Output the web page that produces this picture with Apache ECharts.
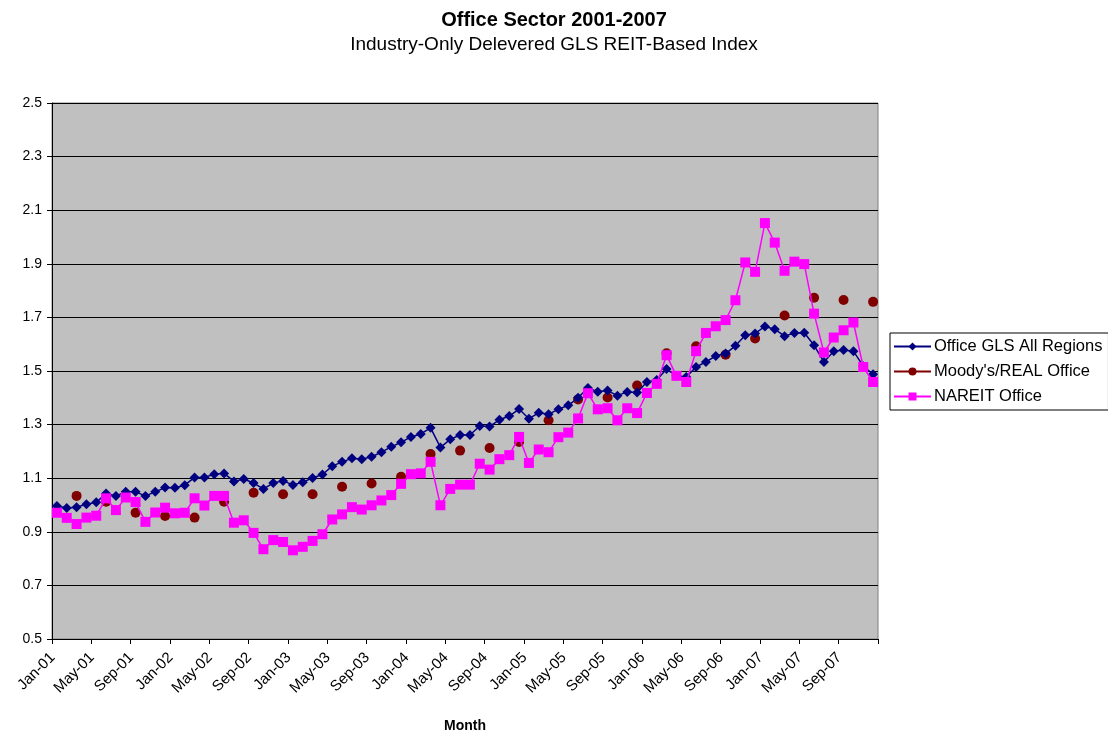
<html>
<head>
    <meta charset="utf-8">
    <title>Office Sector 2001-2007</title>
    <style>
    html, body, #chart {
      padding: 0;
      margin: 0;
      height: 100%;
      width: 100%;
      background: #fff;
    }
    </style>
    <script src="https://cdn.jsdelivr.net/npm/echarts@6/dist/echarts.min.js"></script>
</head>
<body>
<div id="chart" style="width:1108px;height:736px;"></div>
<script>
// month labels Jan-01 .. Dec-07
var monthNames = ['Jan','Feb','Mar','Apr','May','Jun','Jul','Aug','Sep','Oct','Nov','Dec'];
var years = ['01','02','03','04','05','06','07'];
var months = [];
years.forEach(function(y){ monthNames.forEach(function(m){ months.push(m + '-' + y); }); });

var yTicks = [0.5, 0.7, 0.9, 1.1, 1.3, 1.5, 1.7, 1.9, 2.1, 2.3, 2.5];

// Office GLS All Regions (monthly)
var glsAll = [
    0.996, 0.989, 0.992, 1.003, 1.010, 1.043, 1.034, 1.049, 1.049, 1.034, 1.049, 1.065,
    1.064, 1.074, 1.103, 1.103, 1.115, 1.118, 1.088, 1.097, 1.082, 1.060, 1.082, 1.090,
    1.075, 1.085, 1.101, 1.114, 1.145, 1.161, 1.174, 1.171, 1.180, 1.197, 1.217, 1.234,
    1.254, 1.265, 1.288, 1.215, 1.245, 1.261, 1.261, 1.295, 1.293, 1.318, 1.332, 1.358,
    1.322, 1.344, 1.339, 1.357, 1.372, 1.400, 1.437, 1.423, 1.427, 1.408, 1.422, 1.420,
    1.459, 1.466, 1.507, 1.482, 1.478, 1.515, 1.534, 1.556, 1.565, 1.594, 1.633, 1.640,
    1.666, 1.656, 1.630, 1.642, 1.643, 1.596, 1.534, 1.574, 1.578, 1.574, 1.518, 1.488
];

// Moody's/REAL Office (quarterly: Mar, Jun, Sep, Dec)
var moodys = [
    1.034, 1.012, 0.971, 0.959,
    0.953, 1.012, 1.046, 1.040,
    1.040, 1.068, 1.080, 1.105,
    1.190, 1.203, 1.213, 1.235,
    1.316, 1.394, 1.401, 1.446,
    1.566, 1.592, 1.561, 1.621,
    1.707, 1.773, 1.765, 1.758
];

// NAREIT Office (monthly)
var nareit = [
    0.971, 0.952, 0.929, 0.953, 0.960, 1.025, 0.981, 1.028, 1.011, 0.937, 0.972, 0.990,
    0.969, 0.971, 1.025, 0.998, 1.034, 1.034, 0.934, 0.943, 0.896, 0.835, 0.869, 0.862,
    0.831, 0.844, 0.866, 0.891, 0.946, 0.965, 0.992, 0.983, 0.999, 1.017, 1.037, 1.079,
    1.115, 1.118, 1.161, 0.999, 1.060, 1.076, 1.076, 1.154, 1.132, 1.171, 1.186, 1.254,
    1.157, 1.207, 1.197, 1.253, 1.270, 1.323, 1.417, 1.357, 1.361, 1.316, 1.361, 1.343,
    1.418, 1.452, 1.559, 1.482, 1.459, 1.574, 1.642, 1.667, 1.690, 1.764, 1.905, 1.870,
    2.052, 1.979, 1.874, 1.908, 1.899, 1.714, 1.569, 1.625, 1.652, 1.681, 1.515, 1.459
];

var moodysMonthly = months.map(function(m, i){
    return (i % 3 === 2) ? moodys[(i - 2) / 3] : null;
});

var font = "'Liberation Sans', Arial, sans-serif";
var myChart = echarts.init(document.getElementById('chart'));
var option = {
    backgroundColor: '#ffffff',
    animation: false,
    title: {
        text: 'Office Sector 2001-2007',
        subtext: 'Industry-Only Delevered GLS REIT-Based Index',
        left: 'center',
        top: 5,
        itemGap: 5,
        textStyle: {fontFamily: font, fontSize: 20, fontWeight: 'bold', color: '#000'},
        subtextStyle: {fontFamily: font, fontSize: 19, color: '#000'}
    },
    legend: {
        orient: 'vertical',
        left: 890,
        top: 333,
        padding: [5, 6, 5, 3],
        itemGap: 8,
        itemWidth: 37,
        itemHeight: 10,
        backgroundColor: '#fff',
        borderColor: '#000',
        borderWidth: 1,
        borderRadius: 0,
        textStyle: {fontFamily: font, fontSize: 16.5, color: '#000', padding: [0, 0, 0, -2]},
        data: ['Office GLS All Regions', "Moody's/REAL Office", 'NAREIT Office']
    },
    grid: {
        left: 52,
        right: 230,
        top: 103,
        bottom: 97,
        containLabel: false,
        outerBoundsMode: 'none',
        show: true,
        backgroundColor: '#c0c0c0',
        borderColor: '#808080',
        borderWidth: 1
    },
    xAxis: {
        type: 'category',
        data: months,
        boundaryGap: true,
        name: 'Month',
        nameLocation: 'middle',
        nameGap: 80,
        nameTextStyle: {fontFamily: font, fontSize: 14, fontWeight: 'bold', color: '#000'},
        axisLine: {lineStyle: {color: '#000', width: 1}},
        axisTick: {show: true, interval: 3, alignWithLabel: false, length: 5, lineStyle: {color: '#000'}},
        axisLabel: {
            interval: 3,
            rotate: 45,
            margin: 12,
            padding: [0, 6, 0, 0],
            fontFamily: font,
            fontSize: 15,
            color: '#000'
        },
        splitLine: {show: false}
    },
    yAxis: {
        type: 'value',
        min: yTicks[0],
        max: yTicks[yTicks.length - 1],
        interval: 0.2,
        axisLine: {show: true, lineStyle: {color: '#000', width: 1}},
        axisTick: {show: true, length: 5, lineStyle: {color: '#000'}},
        axisLabel: {
            fontFamily: font,
            fontSize: 14,
            color: '#000',
            margin: 10,
            formatter: function(v){ return v.toFixed(1); }
        },
        splitLine: {show: true, lineStyle: {color: '#000', width: 1}}
    },
    series: [
        {
            name: 'Office GLS All Regions',
            type: 'line',
            data: glsAll,
            symbol: 'diamond',
            symbolSize: 10,
            showAllSymbol: true,
            itemStyle: {color: '#000080'},
            lineStyle: {color: '#000080', width: 1.5},
            z: 3
        },
        {
            name: "Moody's/REAL Office",
            type: 'line',
            data: moodysMonthly,
            connectNulls: false,
            symbol: 'circle',
            symbolSize: 10,
            showAllSymbol: true,
            itemStyle: {color: '#800000'},
            lineStyle: {color: '#800000', width: 1.5},
            z: 2
        },
        {
            name: 'NAREIT Office',
            type: 'line',
            data: nareit,
            symbol: 'rect',
            symbolSize: 10,
            showAllSymbol: true,
            itemStyle: {color: '#ff00ff'},
            lineStyle: {color: '#ff00ff', width: 1.5},
            z: 4
        }
    ]
};
myChart.setOption(option);
</script>
</body>
</html>
